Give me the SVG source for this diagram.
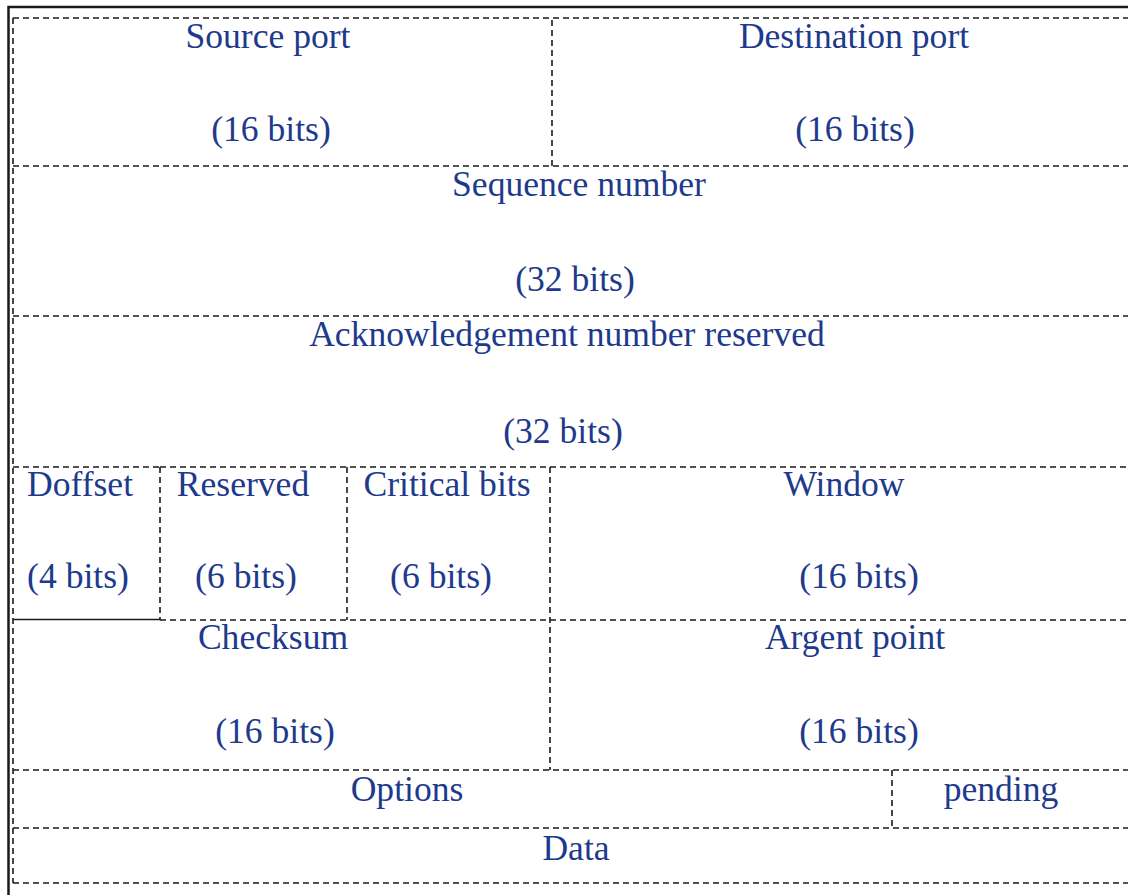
<svg xmlns="http://www.w3.org/2000/svg" width="1128" height="895" viewBox="0 0 1128 895">
  <style>
    .frame { stroke: #1a1a1a; stroke-width: 2.5; fill: none; }
    .grid { stroke: #1a1a1a; stroke-width: 1.6; stroke-dasharray: 6 4; fill: none; }
    .solid { stroke: #1a1a1a; stroke-width: 1.6; fill: none; }
    .lbl { font-family: "Liberation Serif", "Times New Roman", serif; font-size: 35.6px; fill: #1d3a8c; text-anchor: middle; }
  </style>
  <rect width="1128" height="895" fill="#ffffff"/>

  <!-- outer solid frame (left and top) -->
  <g id="frame">
    <path class="frame" d="M8.5 895 V7 H1128"/>
  </g>

  <!-- dashed grid lines of the header layout -->
  <g id="connectors">
    <path class="grid" d="M13 18 V883"/>
    <path class="grid" d="M13 18 H1128"/>
    <path class="grid" d="M13 166 H1128"/>
    <path class="grid" d="M13 316 H1128"/>
    <path class="grid" d="M160 467 H1128"/>
    <path class="grid" d="M13 467 H160"/>
    <path class="solid" d="M13 619.5 H160"/>
    <path class="grid" d="M160 620 H1128"/>
    <path class="grid" d="M13 770 H1128"/>
    <path class="grid" d="M13 828 H1128"/>
    <path class="grid" d="M13 883 H1128"/>
    <path class="grid" d="M552 20 V166"/>
    <path class="grid" d="M160 467 V620"/>
    <path class="grid" d="M347 467 V620"/>
    <path class="grid" d="M550 467 V770"/>
    <path class="grid" d="M892 770 V828"/>
  </g>

  <g id="source-port">
    <text class="lbl" x="268" y="48">Source port</text>
    <text class="lbl" x="271" y="141">(16 bits)</text>
  </g>
  <g id="destination-port">
    <text class="lbl" x="854" y="48">Destination port</text>
    <text class="lbl" x="855" y="141">(16 bits)</text>
  </g>
  <g id="sequence-number">
    <text class="lbl" x="579" y="196">Sequence number</text>
    <text class="lbl" x="575" y="291">(32 bits)</text>
  </g>
  <g id="acknowledgement-number">
    <text class="lbl" x="567" y="346">Acknowledgement number reserved</text>
    <text class="lbl" x="563" y="443">(32 bits)</text>
  </g>
  <g id="doffset">
    <text class="lbl" x="80" y="496">Doffset</text>
    <text class="lbl" x="78" y="588">(4 bits)</text>
  </g>
  <g id="reserved">
    <text class="lbl" x="243" y="496">Reserved</text>
    <text class="lbl" x="246" y="588">(6 bits)</text>
  </g>
  <g id="critical-bits">
    <text class="lbl" x="447" y="496">Critical bits</text>
    <text class="lbl" x="441" y="588">(6 bits)</text>
  </g>
  <g id="window">
    <text class="lbl" x="844" y="496">Window</text>
    <text class="lbl" x="859" y="588">(16 bits)</text>
  </g>
  <g id="checksum">
    <text class="lbl" x="273" y="649">Checksum</text>
    <text class="lbl" x="275" y="743">(16 bits)</text>
  </g>
  <g id="argent-point">
    <text class="lbl" x="855" y="649">Argent point</text>
    <text class="lbl" x="859" y="743">(16 bits)</text>
  </g>
  <g id="options">
    <text class="lbl" x="407" y="801">Options</text>
  </g>
  <g id="pending">
    <text class="lbl" x="1001" y="801">pending</text>
  </g>
  <g id="data">
    <text class="lbl" x="576" y="860">Data</text>
  </g>
</svg>
